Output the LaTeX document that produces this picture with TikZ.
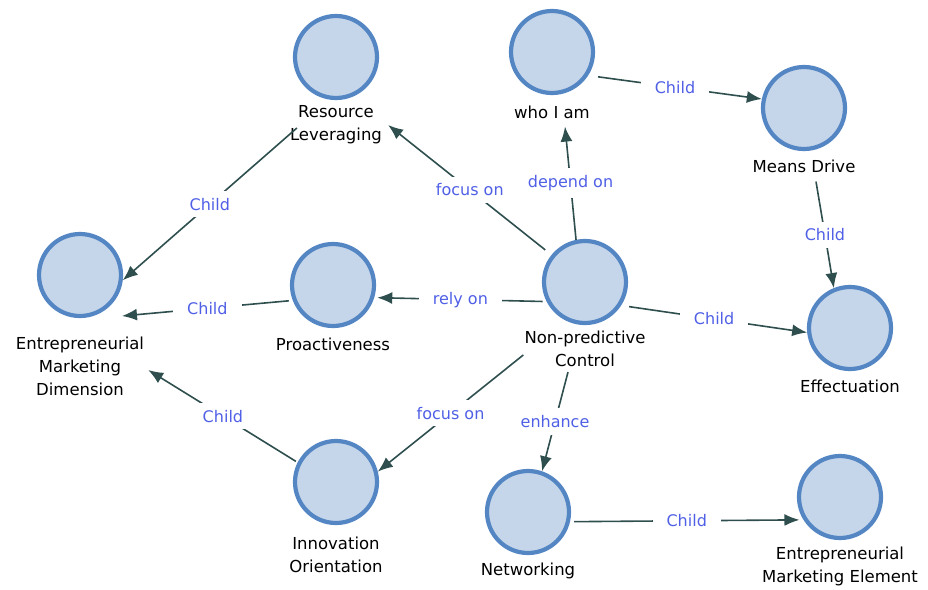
\documentclass[tikz,border=0pt]{standalone}
\usepackage{fontspec}
\setmainfont{DejaVu Sans}
\usetikzlibrary{arrows.meta}
\definecolor{conceptfill}{RGB}{198,214,234}
\definecolor{conceptrim}{RGB}{84,134,196}
\definecolor{linkcol}{RGB}{47,79,79}
\definecolor{linktext}{RGB}{80,96,230}
\tikzset{
  concept/.style={circle, minimum size=82pt, inner sep=0pt, line width=4.2pt,
    draw=conceptrim, fill=conceptfill},
  caption/.style={align=center, font=\fontsize{16.5}{23}\selectfont, inner sep=1pt, text=black},
  link/.style={draw=linkcol, line width=1.6pt, -{Latex[length=15pt,width=12pt]}},
  linklabel/.style={fill=white, text=linktext, font=\fontsize{16}{18}\selectfont,
    inner xsep=14pt, inner ysep=7pt},
}
\begin{document}
\begin{tikzpicture}[x=1pt, y=-1pt]
\useasboundingbox (0,0) rectangle (928,589);

% concepts
\node[concept] (rl)  at (336,57)  {};
\node[caption] (rlL) at (336,125) {Resource\\Leveraging};
\node[concept] (who)  at (552,52)  {};
\node[caption] (whoL) at (552,112) {who I am};
\node[concept] (md)  at (804,108) {};
\node[caption] (mdL) at (804,166) {Means Drive};
\node[concept] (emd)  at (80,275) {};
\node[caption] (emdL) at (80,366) {Entrepreneurial\\Marketing\\Dimension};
\node[concept] (pro)  at (333,285) {};
\node[caption] (proL) at (333,344) {Proactiveness};
\node[concept] (npc)  at (585,282) {};
\node[caption] (npcL) at (585,349) {Non-predictive\\Control};
\node[concept] (eff)  at (850,328) {};
\node[caption] (effL) at (850,386) {Effectuation};
\node[concept] (io)  at (336,482) {};
\node[caption] (ioL) at (336,555) {Innovation\\Orientation};
\node[concept] (net)  at (528,512) {};
\node[caption] (netL) at (528,571) {Networking};
\node[concept] (eme)  at (840,497) {};
\node[caption] (emeL) at (840,566) {Entrepreneurial\\Marketing Element};

% links
\draw[link] ([shift={(8pt,-3pt)}]rlL.west) -- node[linklabel]{Child} (emd.-7);
\draw[link, shorten <=8pt] (npc.141) -- node[linklabel]{focus on} ([xshift=5pt]rlL.east);
\draw[link] (npc.102) -- node[linklabel]{depend on} ([shift={(13pt,-7pt)}]whoL.south);
\draw[link, shorten <=10pt] (who.-33) -- node[linklabel]{Child} (md.168);
\draw[link] ([shift={(12pt,-8pt)}]mdL.south) -- node[linklabel]{Child} (eff.112);
\draw[link, shorten <=8pt] (npc.-33) -- node[linklabel]{Child} (eff.186);
\draw[link, shorten <=4pt, shorten >=3pt] (npc.207) -- node[linklabel]{rely on} (pro.-17);
\draw[link, shorten <=4pt] (pro.201) -- node[linklabel]{Child} ([shift={(42pt,-41pt)}]emd.center);
\draw[link] ([yshift=-6pt]npcL.west) -- node[linklabel]{focus on} (io.14);
\draw[link] ([shift={(-17pt,-4pt)}]npcL.south) -- node[linklabel]{enhance} (net.71);
\draw[link, shorten <=4pt, shorten >=4pt] (net.-13) -- node[linklabel]{Child} (eme.212);
\draw[link, shorten <=2pt] (io.153) -- node[linklabel]{Child} ([shift={(3pt,-4pt)}]emdL.east);
\end{tikzpicture}
\end{document}
